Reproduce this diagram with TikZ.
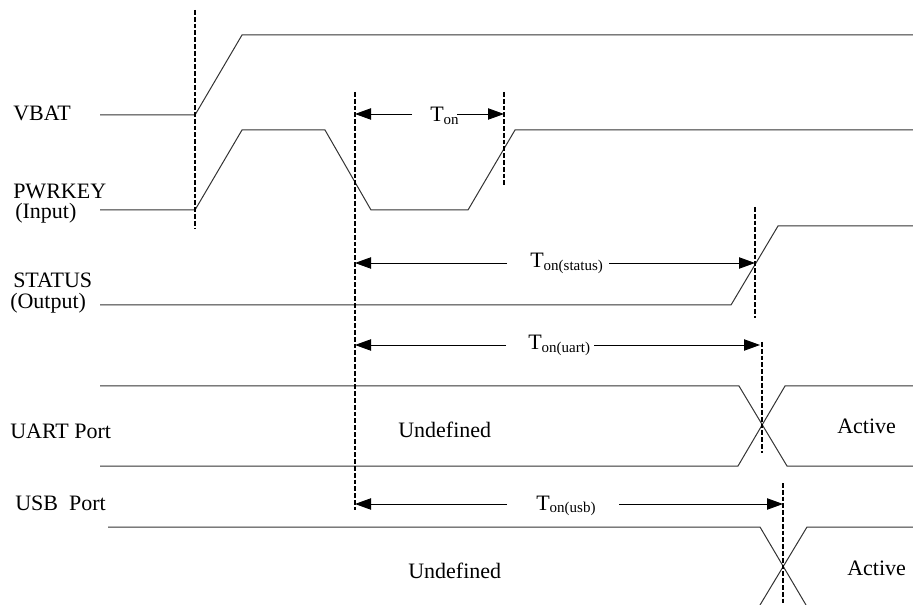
\documentclass[tikz,border=0pt]{standalone}
\usepackage{fontspec}
\setmainfont{Liberation Serif}
\usepackage{tikz}
\usetikzlibrary{arrows.meta,positioning}

\newcommand{\tsub}[1]{T\raisebox{-2pt}{\fontsize{11.25}{12}\selectfont #1}}

\begin{document}
\begin{tikzpicture}[
    x=0.75pt, y=-0.75pt,
    sig/.style={line width=0.75pt, draw=black!80},
    guide/.style={dashed, dash pattern=on 3.6pt off 1.5pt, line width=0.9pt},
    dim/.style={-{Triangle[length=12pt,width=8.5pt]}, line width=0.7pt},
    lbl/.style={anchor=base west, inner sep=0pt, font=\fontsize{16.5}{19}\selectfont}
]
\useasboundingbox (0,0) rectangle (913,605);

% signal names
\node[lbl] (lvbat) at (13,121) {VBAT};
\node[lbl] (lpwr) at (13,199) {PWRKEY};
\node[lbl] (lpwrin) at (15,219) {(Input)};
\node[lbl] (lstat) at (13,288) {STATUS};
\node[lbl] (lstatout) at (10,309) {(Output)};
\node[lbl] (luart) at (10,438) {UART Port};
\node[lbl] (lusb) at (15,510) {USB\ \ Port};

% waveforms
\draw[sig] (100,115) -- (195,115) -- (242,35) -- (913,35);
\draw[sig] (100,210) -- (195,210) -- (242,130) -- (325,130) -- (371,210)
    -- (468,210) -- (515,130) -- (913,130);
\draw[sig] (100,305) -- (731,305) -- (778,226) -- (913,226);
\draw[sig] (100,386) -- (739,386) -- (787,466) -- (913,466);
\draw[sig] (100,466) -- (738,466) -- (785,386) -- (913,386);
\draw[sig] (108,527) -- (760,527) -- (806,605);
\draw[sig] (913,527) -- (807,527) -- (760,605);

\node[lbl] (undef1) at (398,437) {Undefined};
\node[lbl] (act1) at (837,433) {Active};
\node[lbl] (undef2) at (408,578) {Undefined};
\node[lbl] (act2) at (847,575) {Active};

% guide lines
\draw[guide] (195,10) -- (195,228);
\draw[guide] (355,92) -- (355,510);
\draw[guide] (504,92) -- (504,185);
\draw[guide] (755,207) -- (755,318);
\draw[guide] (762,342) -- (762,453);
\draw[guide] (783,483) -- (783,605);

% timing
\coordinate (a1) at (355,114);
\coordinate (b1) at (504,114);
\node[lbl] (ton) at (430,122) {\tsub{on}};
\draw[dim] (412,114) -- (a1);
\draw[dim] (457,114) -- (b1);

\coordinate (a2) at (355,263);
\coordinate (b2) at (755,263);
\node[lbl] (tstat) at (530,268) {\tsub{on(status)}};
\draw[dim] (507,263) -- (a2);
\draw[dim] (609,263) -- (b2);

\coordinate (a3) at (355,345);
\coordinate (b3) at (760,345);
\node[lbl] (tuart) at (528,350) {\tsub{on(uart)}};
\draw[dim] (506,345) -- (a3);
\draw[dim] (594,345) -- (b3);

\coordinate (a4) at (355,504);
\coordinate (b4) at (783,504);
\node[lbl] (tusb) at (536,510) {\tsub{on(usb)}};
\draw[dim] (507,504) -- (a4);
\draw[dim] (619,504) -- (b4);
\end{tikzpicture}
\end{document}
